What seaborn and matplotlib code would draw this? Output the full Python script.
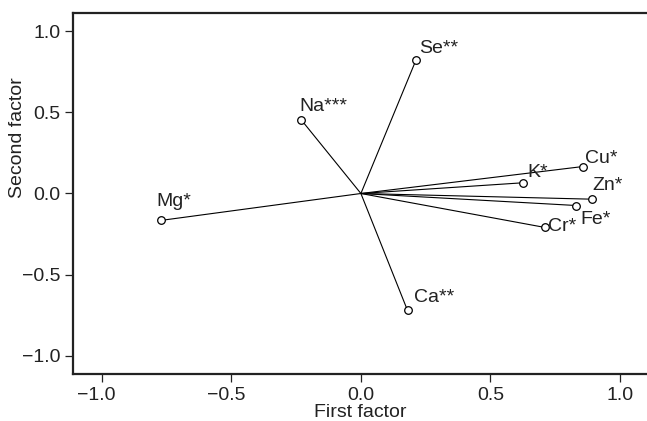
import matplotlib
matplotlib.use("Agg")
import matplotlib.pyplot as plt
import matplotlib.transforms as mtransforms
import pandas as pd
import seaborn as sns

# Factor loadings
elements = ["Mg*", "Na***", "Se**", "Cu*", "K*", "Zn*", "Fe*", "Cr*", "Ca**"]
first_factor = [-0.773, -0.231, 0.213, 0.857, 0.626, 0.891, 0.831, 0.710, 0.180]
second_factor = [-0.166, 0.455, 0.823, 0.166, 0.066, -0.035, -0.074, -0.209, -0.720]

ticks = [-1.0, -0.5, 0.0, 0.5, 1.0]
tick_labels = ["\u22121.0", "\u22120.5", "0.0", "0.5", "1.0"]

df = pd.DataFrame({"element": elements, "first": first_factor, "second": second_factor})

# label offsets (pixels) from each point
label_offsets = {
    "Mg*": (-4, 14),
    "Na***": (-2, 9),
    "Se**": (3, 7),
    "Cu*": (2, 4),
    "K*": (4, 6),
    "Zn*": (1, 9),
    "Fe*": (4, -18),
    "Cr*": (3, -4),
    "Ca**": (6, 8),
}

sns.set_style("ticks")
plt.rcParams["font.family"] = ["Liberation Sans", "DejaVu Sans"]

fig = plt.figure(figsize=(6.47, 4.21), dpi=100)
ax = fig.add_axes([0.1128, 0.1124, 0.8872, 0.856])

# loading vectors from the origin
for _, row in df.iterrows():
    ax.plot([0, row["first"]], [0, row["second"]], color="black", lw=0.8, zorder=2)

sns.scatterplot(data=df, x="first", y="second", ax=ax, marker="o", s=30,
                facecolor="white", edgecolor="black", linewidth=0.9, zorder=3)

for _, row in df.iterrows():
    dx, dy = label_offsets[row["element"]]
    ax.annotate(row["element"], (row["first"], row["second"]),
                xytext=(dx, dy), textcoords="offset pixels",
                ha="left", va="baseline", fontsize=14, color="#222222")

ax.set_xlim(-1.111, 1.104)
ax.set_ylim(-1.109, 1.109)
ax.set_xticks(ticks)
ax.set_xticklabels(tick_labels)
ax.set_yticks(ticks)
ax.set_yticklabels(tick_labels)
ax.tick_params(axis="both", labelsize=14, length=6, width=0.9, pad=3,
               colors="#222222", labelcolor="#222222")
ax.tick_params(axis="x", pad=3.5)
ax.set_xlabel("First factor", fontsize=14, labelpad=0, color="#222222")
ax.set_ylabel("")
# y label sits above the middle in the original, so place it by hand
fig.text(18 / 647, 1 - 138 / 421, "Second factor", rotation=90,
         ha="center", va="center", fontsize=14, color="#222222")

# negative x tick labels sit a little left of their ticks in the original
shift = mtransforms.ScaledTranslation(-5 / 100, 0, fig.dpi_scale_trans)
for lab in ax.get_xticklabels():
    if lab.get_text().startswith("\u2212"):
        lab.set_transform(lab.get_transform() + shift)

for side in ["left", "bottom", "top", "right"]:
    ax.spines[side].set_linewidth(1.6)
    ax.spines[side].set_color("#222222")
ax.spines["right"].set_visible(False)

fig.savefig("out.png", dpi=100)
